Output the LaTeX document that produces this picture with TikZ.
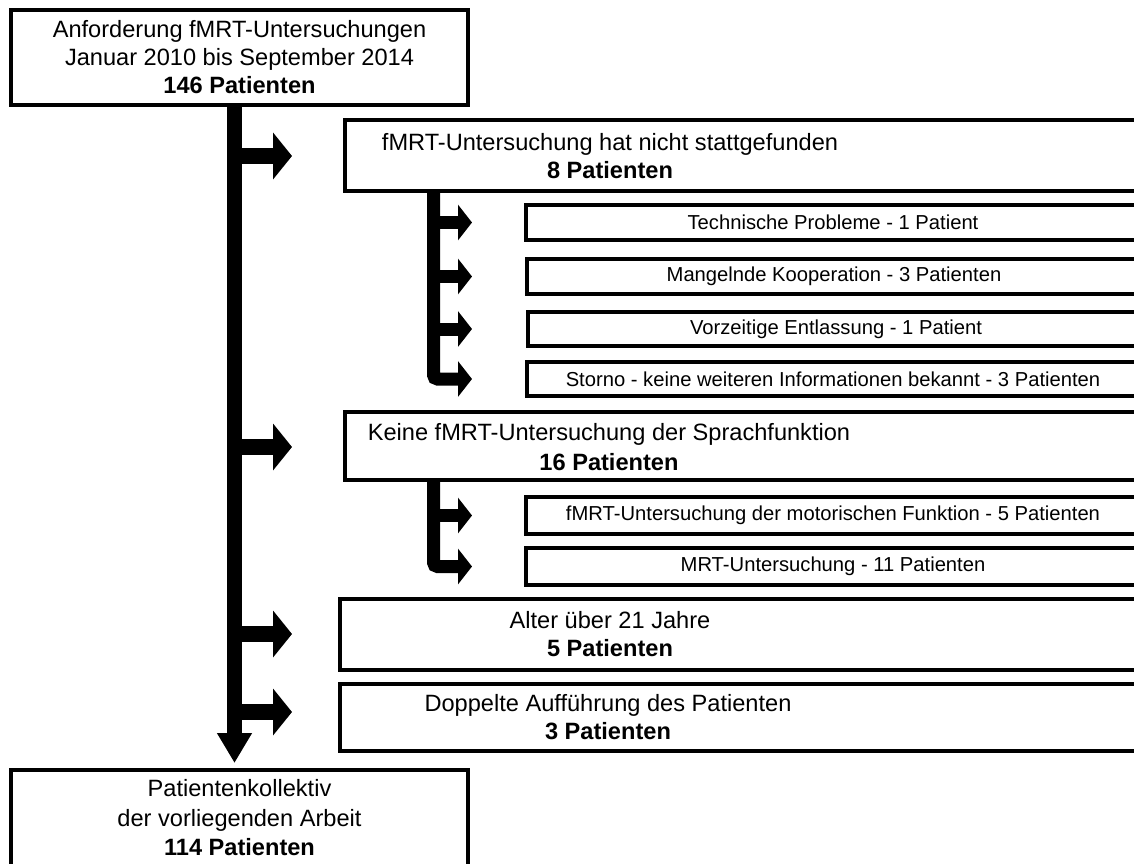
\documentclass[tikz,border=0pt]{standalone}
\usepackage{fontspec}
\setmainfont{Liberation Sans}
\usetikzlibrary{arrows.meta}
\begin{document}
\begin{tikzpicture}[x=1pt,y=-1pt,
  box/.style={draw=black, line width=3.5pt, inner sep=0pt, outer sep=0pt},
  bigtxt/.style={font=\fontsize{23.6}{28}\selectfont, align=center, inner sep=0pt},
  subtxt/.style={font=\fontsize{20.2}{24}\selectfont, inner sep=0pt},
  trunk/.style={line width=15pt, -{Triangle[width=33pt,length=30pt]}},
  branch/.style={line width=16pt, -{Triangle[width=46pt,length=19pt]}},
  subbranch/.style={line width=13pt, -{Triangle[width=35pt,length=14pt]}},
]
\fill[white] (0,0) rectangle (1134,863);
\useasboundingbox (0,0) rectangle (1134,863);
\clip (0,0) rectangle (1134,863);

% coordinates for trunks and arrow tips
\coordinate (tx) at (234.5,0);
\coordinate (btip) at (292,0);
\coordinate (st) at (433.5,0);
\coordinate (stip) at (472,0);

% main boxes
\node[box, bigtxt, minimum width=457pt, minimum height=95pt] (top) at (239.5,57.5)
  {Anforderung fMRT-Untersuchungen\\Januar 2010 bis September 2014\\\textbf{146 Patienten}};
\node[box, anchor=north west, minimum width=815pt, minimum height=71pt] (b2) at (345,120) {};
\node[bigtxt, font=\fontsize{23.6}{28}\selectfont] (t2) at (610,156)
  {fMRT-Untersuchung hat nicht stattgefunden\\\textbf{8 Patienten}};
\node[box, anchor=north west, minimum width=815pt, minimum height=68pt] (b3) at (345,412) {};
\node[bigtxt, font=\fontsize{23.6}{30}\selectfont] (t3) at (609,447)
  {Keine fMRT-Untersuchung der Sprachfunktion\\\textbf{16 Patienten}};
\node[box, anchor=north west, minimum width=820pt, minimum height=71pt] (b4) at (340,599) {};
\node[bigtxt] (t4) at (610,634) {Alter über 21 Jahre\\\textbf{5 Patienten}};
\node[box, anchor=north west, minimum width=820pt, minimum height=67pt] (b5) at (340,684) {};
\node[bigtxt] (t5) at (608,717) {Doppelte Aufführung des Patienten\\\textbf{3 Patienten}};
\node[box, bigtxt, font=\fontsize{23.6}{29.5}\selectfont, minimum width=457pt, minimum height=96pt] (bottom) at (239.5,818)
  {Patientenkollektiv\\der vorliegenden Arbeit\\\textbf{114 Patienten}};

% sub boxes
\node[box, anchor=north west, minimum width=634pt, minimum height=35pt] (sa) at (526,205) {};
\node[subtxt] (ta) at (833,222.5) {Technische Probleme - 1 Patient};
\node[box, anchor=north west, minimum width=634pt, minimum height=35pt] (sb) at (527,259) {};
\node[subtxt] (tb) at (834,276.5) {Mangelnde Kooperation - 3 Patienten};
\node[box, anchor=north west, minimum width=634pt, minimum height=34pt] (sc) at (528,312) {};
\node[subtxt] (tc) at (836,329) {Vorzeitige Entlassung - 1 Patient};
\node[box, anchor=north west, minimum width=634pt, minimum height=34pt] (sd) at (527,362) {};
\node[subtxt] (td) at (833,379) {Storno - keine weiteren Informationen bekannt - 3 Patienten};
\node[box, anchor=north west, minimum width=634pt, minimum height=37pt] (se) at (526,497) {};
\node[subtxt] (te) at (833,515.5) {fMRT-Untersuchung der motorischen Funktion - 5 Patienten};
\node[box, anchor=north west, minimum width=634pt, minimum height=37pt] (sf) at (526,548) {};
\node[subtxt] (tf) at (833,566.5) {MRT-Untersuchung - 11 Patienten};

% main trunk and branches
\draw[trunk] (top.south -| tx) -- ([yshift=7pt]bottom.north -| tx);
\draw[branch] (t2 -| tx) -- (t2 -| btip);
\draw[branch] (t3 -| tx) -- (t3 -| btip);
\draw[branch] (t4 -| tx) -- (t4 -| btip);
\draw[branch] ([yshift=5pt]t5.center -| tx) -- ([yshift=5pt]t5.center -| btip);

% sub trunk 1
\draw[subbranch, rounded corners=4pt] (b2.south -| st) |- (sd.west -| stip);
\draw[subbranch] (sa.west -| st) -- (sa.west -| stip);
\draw[subbranch] (sb.west -| st) -- (sb.west -| stip);
\draw[subbranch] (sc.west -| st) -- (sc.west -| stip);

% sub trunk 2
\draw[subbranch, rounded corners=4pt] (b3.south -| st) |- (sf.west -| stip);
\draw[subbranch] (se.west -| st) -- (se.west -| stip);
\end{tikzpicture}
\end{document}
